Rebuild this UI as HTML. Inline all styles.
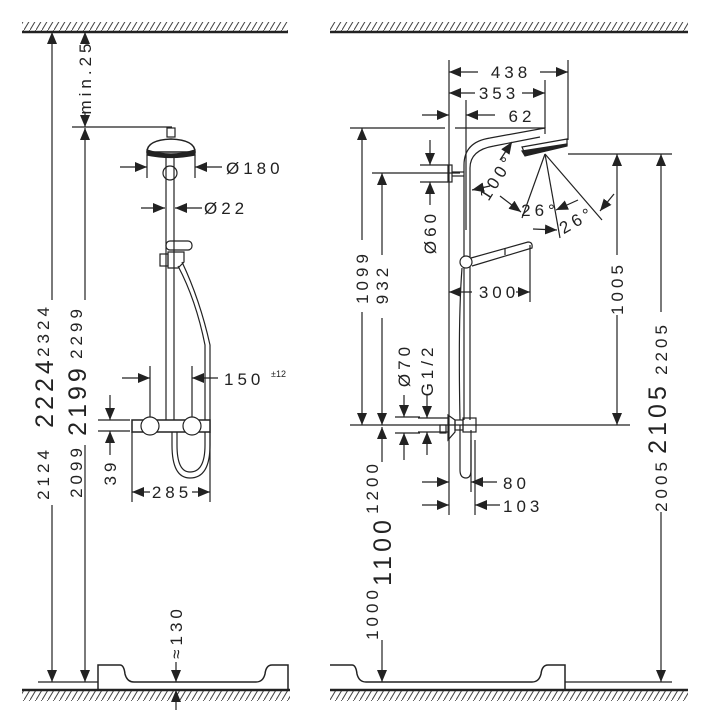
<!DOCTYPE html>
<html><head><meta charset="utf-8"><style>
html,body{margin:0;padding:0;background:#fff}
svg{display:block}
text{font-family:"Liberation Sans",sans-serif;fill:#222;font-size:17px;letter-spacing:4px}
.b{font-size:25px;letter-spacing:4px}
</style></head><body>
<svg width="706" height="720" viewBox="0 0 706 720" xmlns="http://www.w3.org/2000/svg">
<defs>
<marker id="a" markerUnits="userSpaceOnUse" markerWidth="12" markerHeight="10" refX="12" refY="5" orient="auto"><path d="M0,0L12,5L0,10z" fill="#222"/></marker>
<pattern id="h" width="6" height="10" patternUnits="userSpaceOnUse"><line x1="0" y1="10" x2="6" y2="0" stroke="#444" stroke-width="1"/></pattern>
</defs>
<g stroke="#222" fill="none" stroke-width="1.2">
<rect x="22" y="22" width="266" height="9" fill="url(#h)" stroke="none"/>
<line x1="22" y1="32" x2="288" y2="32" stroke-width="2.5"/>
<rect x="330" y="22" width="358" height="9" fill="url(#h)" stroke="none"/>
<line x1="330" y1="32" x2="688" y2="32" stroke-width="2.5"/>
<rect x="22" y="691" width="268" height="10" fill="url(#h)" stroke="none"/>
<line x1="22" y1="690" x2="290" y2="690" stroke-width="2.5"/>
<rect x="330" y="691" width="358" height="10" fill="url(#h)" stroke="none"/>
<line x1="330" y1="690" x2="688" y2="690" stroke-width="2.5"/>
<path d="M98,690V665H120Q124,665 125,674Q127,682 134,682H256Q263,682 265,674Q266,665 272,665H288V690" stroke-width="1.5"/>
<path d="M330,665H352Q356,665 357,674Q359,682 366,682H532Q539,682 541,674Q542,665 548,665H565V690" stroke-width="1.5"/>
<line x1="38" y1="682" x2="98" y2="682"/>
<line x1="565" y1="682" x2="672" y2="682"/>

<line x1="52" y1="300" x2="52" y2="32" marker-end="url(#a)"/>
<line x1="52" y1="505" x2="52" y2="682" marker-end="url(#a)"/>
<line x1="85" y1="40" x2="85" y2="32" marker-end="url(#a)"/>
<line x1="85" y1="112" x2="85" y2="127" marker-end="url(#a)"/>
<line x1="72" y1="127" x2="172" y2="127"/>
<line x1="85" y1="300" x2="85" y2="128" marker-end="url(#a)"/>
<line x1="85" y1="445" x2="85" y2="682" marker-end="url(#a)"/>
<line x1="176" y1="662" x2="176" y2="682" marker-end="url(#a)"/>
<line x1="176" y1="710" x2="176" y2="690" marker-end="url(#a)"/>

<rect x="167" y="128" width="8" height="9"/>
<path d="M147,152Q147,140 171,139Q195,140 195,152Z" stroke-width="1.5"/>
<path d="M147,150Q171,158 195,150L195,155Q171,160 147,155Z" fill="#222"/>
<line x1="166" y1="155" x2="166" y2="420"/>
<line x1="174" y1="155" x2="174" y2="420"/>
<circle cx="170" cy="173" r="7"/>
<line x1="147" y1="155" x2="147" y2="178"/>
<line x1="195" y1="155" x2="195" y2="178"/>
<line x1="120" y1="167" x2="147" y2="167" marker-end="url(#a)"/>
<line x1="222" y1="167" x2="195" y2="167" marker-end="url(#a)"/>
<line x1="141" y1="208" x2="165" y2="208" marker-end="url(#a)"/>
<line x1="202" y1="208" x2="175" y2="208" marker-end="url(#a)"/>
<rect x="166" y="241" width="26" height="9" rx="4"/>
<rect x="160" y="254" width="8" height="12"/>
<path d="M168,252H184V262L178,268H168Z"/>
<path d="M182,262Q200,300 210,345V445Q210,478 190,478Q172,478 172,445V432"/>
<path d="M178,266Q196,300 205,345V445Q205,472 190,472Q177,472 177,445V432"/>
<rect x="132" y="420" width="78" height="12" stroke-width="1.5" fill="#fff"/>
<ellipse cx="150" cy="426" rx="9" ry="9" fill="#fff"/>
<ellipse cx="192" cy="426" rx="9" ry="9" fill="#fff"/>
<line x1="150" y1="366" x2="150" y2="417"/>
<line x1="192" y1="366" x2="192" y2="417"/>
<line x1="122" y1="378" x2="150" y2="378" marker-end="url(#a)"/>
<line x1="218" y1="378" x2="192" y2="378" marker-end="url(#a)"/>
<line x1="98" y1="420" x2="130" y2="420"/>
<line x1="98" y1="431" x2="130" y2="431"/>
<line x1="110" y1="395" x2="110" y2="420" marker-end="url(#a)"/>
<line x1="110" y1="455" x2="110" y2="431" marker-end="url(#a)"/>
<line x1="132" y1="432" x2="132" y2="502"/>
<line x1="210" y1="432" x2="210" y2="502"/>
<line x1="150" y1="492" x2="132" y2="492" marker-end="url(#a)"/>
<line x1="192" y1="492" x2="210" y2="492" marker-end="url(#a)"/>

<line x1="449" y1="60" x2="449" y2="515"/>
<line x1="568" y1="60" x2="568" y2="140"/>
<line x1="545" y1="80" x2="545" y2="128"/>
<line x1="466" y1="100" x2="466" y2="230"/>
<line x1="478" y1="72" x2="449" y2="72" marker-end="url(#a)"/>
<line x1="540" y1="72" x2="568" y2="72" marker-end="url(#a)"/>
<line x1="475" y1="93" x2="449" y2="93" marker-end="url(#a)"/>
<line x1="522" y1="93" x2="545" y2="93" marker-end="url(#a)"/>
<line x1="422" y1="115" x2="449" y2="115" marker-end="url(#a)"/>
<line x1="495" y1="115" x2="466" y2="115" marker-end="url(#a)"/>
<line x1="350" y1="128" x2="445" y2="128"/>
<line x1="455" y1="128" x2="545" y2="128"/>
<line x1="362" y1="240" x2="362" y2="128" marker-end="url(#a)"/>
<line x1="362" y1="312" x2="362" y2="425" marker-end="url(#a)"/>
<line x1="372" y1="173" x2="460" y2="173"/>
<line x1="382" y1="255" x2="382" y2="173" marker-end="url(#a)"/>
<line x1="382" y1="318" x2="382" y2="425" marker-end="url(#a)"/>
<line x1="420" y1="165" x2="448" y2="165"/>
<line x1="420" y1="182" x2="448" y2="182"/>
<line x1="430" y1="140" x2="430" y2="165" marker-end="url(#a)"/>
<line x1="430" y1="205" x2="430" y2="182" marker-end="url(#a)"/>
<line x1="568" y1="154" x2="672" y2="154"/>
<line x1="617" y1="255" x2="617" y2="154" marker-end="url(#a)"/>
<line x1="617" y1="315" x2="617" y2="425" marker-end="url(#a)"/>
<line x1="661" y1="312" x2="661" y2="154" marker-end="url(#a)"/>
<line x1="661" y1="512" x2="661" y2="682" marker-end="url(#a)"/>
<line x1="350" y1="425" x2="630" y2="425"/>
<line x1="382" y1="462" x2="382" y2="427" marker-end="url(#a)"/>
<line x1="382" y1="640" x2="382" y2="682" marker-end="url(#a)"/>
<line x1="395" y1="417" x2="420" y2="417"/>
<line x1="395" y1="433" x2="420" y2="433"/>
<line x1="404" y1="395" x2="404" y2="417" marker-end="url(#a)"/>
<line x1="404" y1="460" x2="404" y2="433" marker-end="url(#a)"/>
<line x1="418" y1="418" x2="448" y2="418"/>
<line x1="418" y1="432" x2="448" y2="432"/>
<line x1="427" y1="395" x2="427" y2="418" marker-end="url(#a)"/>
<line x1="427" y1="455" x2="427" y2="432" marker-end="url(#a)"/>
<line x1="471" y1="440" x2="471" y2="492"/>
<line x1="475" y1="440" x2="475" y2="515"/>
<line x1="422" y1="482" x2="449" y2="482" marker-end="url(#a)"/>
<line x1="497" y1="482" x2="471" y2="482" marker-end="url(#a)"/>
<line x1="422" y1="505" x2="449" y2="505" marker-end="url(#a)"/>
<line x1="500" y1="505" x2="475" y2="505" marker-end="url(#a)"/>
<line x1="530" y1="245" x2="530" y2="302"/>
<line x1="472" y1="292" x2="449" y2="292" marker-end="url(#a)"/>
<line x1="516" y1="292" x2="530" y2="292" marker-end="url(#a)"/>

<path d="M464,420V165Q464,142 490,138L545,128V134"/>
<path d="M470,420V168Q470,150 494,146L540,137"/>
<rect x="448" y="165" width="4" height="17"/>
<line x1="452" y1="172" x2="464" y2="172"/>
<line x1="452" y1="176" x2="464" y2="176"/>
<path d="M522,147L567,139V145L525,154Z" fill="#fff"/>
<path d="M522,151L567,144V146L525,156Z" fill="#222"/>
<line x1="545" y1="154" x2="522" y2="218"/>
<line x1="545" y1="154" x2="560" y2="238"/>
<line x1="545" y1="154" x2="602" y2="220"/>
<line x1="500" y1="160" x2="512" y2="142" marker-end="url(#a)"/>
<line x1="490" y1="186" x2="472" y2="190" marker-end="url(#a)"/>
<line x1="500" y1="196" x2="521" y2="212" marker-end="url(#a)"/>
<line x1="578" y1="200" x2="556" y2="210" marker-end="url(#a)"/>
<line x1="533" y1="229" x2="557" y2="230" marker-end="url(#a)"/>
<line x1="614" y1="194" x2="600" y2="211" marker-end="url(#a)"/>
<circle cx="466" cy="262" r="6" fill="#fff"/>
<path d="M471,258L528,242Q533,242 532,248L472,266"/>
<line x1="505" y1="248" x2="505" y2="255"/>
<path d="M462,268Q458,320 460,420"/>
<path d="M460,425V470Q460,478 466,478Q471,478 471,470V430"/>
<path d="M455,420L448,415V440L455,432Z"/>
<rect x="455" y="420" width="8" height="10"/>
<rect x="463" y="418" width="13" height="14"/>
<rect x="440" y="425" width="6" height="8"/>
</g>

<text transform="translate(49,330) rotate(-90)" text-anchor="middle">2324</text>
<text transform="translate(53,392) rotate(-90)" text-anchor="middle" class="b">2224</text>
<text transform="translate(49,473) rotate(-90)" text-anchor="middle">2124</text>
<text transform="translate(91,77) rotate(-90)" text-anchor="middle">min.25</text>
<text transform="translate(82,332) rotate(-90)" text-anchor="middle">2299</text>
<text transform="translate(86,400) rotate(-90)" text-anchor="middle" class="b">2199</text>
<text transform="translate(82,471) rotate(-90)" text-anchor="middle">2099</text>
<text transform="translate(182,632) rotate(-90)" text-anchor="middle">≈130</text>
<text x="226" y="174">Ø180</text>
<text x="204" y="214">Ø22</text>
<text x="224" y="385">150</text>
<text x="271" y="377" style="font-size:9px;letter-spacing:0">±12</text>
<text transform="translate(116,472) rotate(-90)" text-anchor="middle">39</text>
<text x="172" y="498" text-anchor="middle">285</text>

<text x="511" y="78" text-anchor="middle">438</text>
<text x="499" y="99" text-anchor="middle">353</text>
<text x="522" y="122" text-anchor="middle">62</text>
<text transform="translate(368,277) rotate(-90)" text-anchor="middle">1099</text>
<text transform="translate(388,284) rotate(-90)" text-anchor="middle">932</text>
<text transform="translate(436,232) rotate(-90)" text-anchor="middle">Ø60</text>
<text transform="translate(502,180) rotate(-58)" text-anchor="middle">100°</text>
<text x="540" y="216" text-anchor="middle">26°</text>
<text transform="translate(580,225) rotate(-30)" text-anchor="middle">26°</text>
<text x="499" y="298" text-anchor="middle">300</text>
<text transform="translate(623,288) rotate(-90)" text-anchor="middle">1005</text>
<text transform="translate(667,348) rotate(-90)" text-anchor="middle">2205</text>
<text transform="translate(666,418) rotate(-90)" text-anchor="middle" class="b">2105</text>
<text transform="translate(667,485) rotate(-90)" text-anchor="middle">2005</text>
<text transform="translate(410,365) rotate(-90)" text-anchor="middle">Ø70</text>
<text transform="translate(433,370) rotate(-90)" text-anchor="middle">G1/2</text>
<text x="503" y="489">80</text>
<text x="503" y="512">103</text>
<text transform="translate(378,487) rotate(-90)" text-anchor="middle">1200</text>
<text transform="translate(391,551) rotate(-90)" text-anchor="middle" class="b">1100</text>
<text transform="translate(378,613) rotate(-90)" text-anchor="middle">1000</text>
</svg>
</body></html>
